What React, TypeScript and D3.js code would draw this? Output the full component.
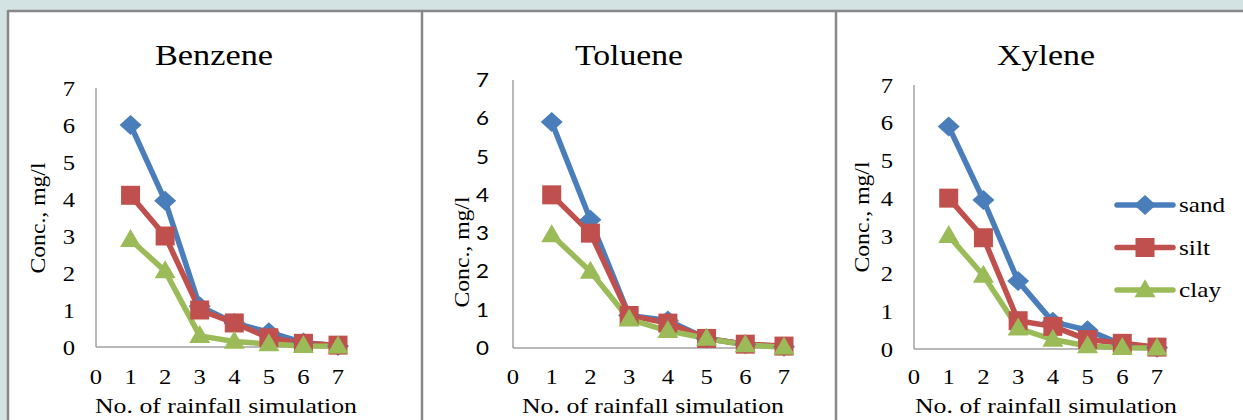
import React from 'react'
import * as d3 from 'd3'

const runs = [1, 2, 3, 4, 5, 6, 7]
const xTicks = [0, 1, 2, 3, 4, 5, 6, 7]
const yTicks = [0, 1, 2, 3, 4, 5, 6, 7]
const soils = ['sand', 'silt', 'clay']
const soilLabelWidths = [46, 31, 42]
const colors = ['#4a7ebb', '#c0504d', '#9bbb59']

const benzeneSand = [6.0, 3.95, 1.1, 0.65, 0.4, 0.12, 0.03]
const benzeneSilt = [4.1, 3.0, 1.0, 0.65, 0.25, 0.1, 0.05]
const benzeneClay = [2.9, 2.05, 0.3, 0.15, 0.08, 0.03, 0.02]

const tolueneSand = [5.9, 3.35, 0.85, 0.72, 0.25, 0.1, 0.03]
const tolueneSilt = [4.0, 3.0, 0.85, 0.65, 0.25, 0.1, 0.05]
const tolueneClay = [2.95, 2.0, 0.75, 0.45, 0.25, 0.08, 0.02]

const xyleneSand = [5.9, 3.95, 1.8, 0.72, 0.5, 0.12, 0.03]
const xyleneSilt = [4.0, 2.95, 0.75, 0.6, 0.25, 0.15, 0.05]
const xyleneClay = [3.0, 1.95, 0.55, 0.25, 0.08, 0.03, 0.02]

const SERIF = '"Liberation Serif", "Times New Roman", serif'
const SANS = 'Lato, "Liberation Sans", sans-serif'

type Panel = {
  title: string
  titleW: number
  series: number[][]
  x0: number; x7: number; y0: number; y7: number
  titleX: number; xTitleX: number; yTitleX: number; yTitleY: number
  yFont: string; yLabelX: number
  legend?: boolean
}

const panels: Panel[] = [
  { title: 'Benzene', titleW: 118, series: [benzeneSand, benzeneSilt, benzeneClay],
    x0: 96, x7: 338, y0: 347, y7: 88, titleX: 214, xTitleX: 226, yTitleX: 45, yTitleY: 218,
    yFont: SERIF, yLabelX: 75 },
  { title: 'Toluene', titleW: 108, series: [tolueneSand, tolueneSilt, tolueneClay],
    x0: 513, x7: 784, y0: 348, y7: 80, titleX: 629, xTitleX: 653, yTitleX: 469, yTitleY: 252,
    yFont: SANS, yLabelX: 489 },
  { title: 'Xylene', titleW: 98, series: [xyleneSand, xyleneSilt, xyleneClay],
    x0: 914, x7: 1157, y0: 349, y7: 85, titleX: 1046, xTitleX: 1046, yTitleX: 869, yTitleY: 217,
    yFont: SERIF, yLabelX: 893, legend: true },
]

function Marker({ kind, x, y, color }: { kind: number; x: number; y: number; color: string }) {
  if (kind === 0) {
    const rx = 11, ry = 10
    return <path d={`M${x},${y - ry}L${x + rx},${y}L${x},${y + ry}L${x - rx},${y}Z`} fill={color} />
  }
  if (kind === 1) {
    const s = 19
    return <rect x={x - s / 2} y={y - s / 2} width={s} height={s} fill={color} />
  }
  const w = 21, h = 18
  return <path d={`M${x},${y - h * 0.6}L${x + w / 2},${y + h * 0.4}L${x - w / 2},${y + h * 0.4}Z`} fill={color} />
}

function ChartPanel({ p }: { p: Panel }) {
  const x = d3.scaleLinear().domain([0, 7]).range([p.x0, p.x7])
  const y = d3.scaleLinear().domain([0, 7]).range([p.y0, p.y7])
  const line = d3.line<number>().x((_, i) => x(runs[i])).y(d => y(d))

  return (
    <g>
      <text x={p.titleX} y={65} textAnchor="middle" fontFamily={SERIF} fontSize={30}
        textLength={p.titleW} lengthAdjust="spacingAndGlyphs">{p.title}</text>
      <line x1={p.x0} x2={p.x0} y1={p.y7} y2={p.y0} stroke="#a0a0a0" strokeWidth={1.5} />
      <line x1={p.x0} x2={p.x7} y1={p.y0} y2={p.y0} stroke="#a0a0a0" strokeWidth={1.5} />
      {yTicks.map(t => (
        <text key={t} transform={`translate(${p.yLabelX},${y(t)}) scale(1.12,1)`} dy="0.35em" textAnchor="end"
          fontFamily={p.yFont} fontSize={p.yFont === SANS ? 20 : 22}>{t}</text>
      ))}
      {xTicks.map(t => (
        <text key={t} transform={`translate(${x(t)},384) scale(1.12,1)`} textAnchor="middle" fontFamily={SERIF} fontSize={22}>{t}</text>
      ))}
      <text x={p.xTitleX} y={413} textAnchor="middle" fontFamily={SERIF} fontSize={22}
        textLength={262} lengthAdjust="spacingAndGlyphs">No. of rainfall simulation</text>
      <text transform={`translate(${p.yTitleX},${p.yTitleY}) rotate(-90)`} textAnchor="middle" fontFamily={SERIF} fontSize={22}
        textLength={111} lengthAdjust="spacingAndGlyphs">Conc., mg/l</text>
      {p.series.map((s, k) => (
        <path key={k} d={line(s) || ''} fill="none" stroke={colors[k]} strokeWidth={5.5} strokeLinejoin="round" />
      ))}
      {p.series.map((s, k) => s.map((v, i) => (
        <Marker key={`${k}-${i}`} kind={k} x={x(runs[i])} y={y(v)} color={colors[k]} />
      )))}
      {p.legend && soils.map((name, k) => {
        const ly = 205 + k * 42.5
        return (
          <g key={name}>
            <line x1={1117} x2={1173} y1={ly} y2={ly} stroke={colors[k]} strokeWidth={5.5} strokeLinecap="round" />
            <Marker kind={k} x={1145} y={ly} color={colors[k]} />
            <text x={1179} y={ly} dy="0.33em" fontFamily={SERIF} fontSize={22}
              textLength={soilLabelWidths[k]} lengthAdjust="spacingAndGlyphs">{name}</text>
          </g>
        )
      })}
    </g>
  )
}

export default function App() {
  return (
    <svg width={1243} height={420} style={{ position: 'absolute', left: 0, top: 0, display: 'block' }}>
      <rect width={1243} height={420} fill="#d3e3e3" />
      <rect x={8} y={11} width={1235} height={409} fill="#ffffff" />
      <line x1={8} x2={1243} y1={11} y2={11} stroke="#888888" strokeWidth={2.5} />
      <line x1={8} x2={8} y1={10} y2={420} stroke="#888888" strokeWidth={2.5} />
      <line x1={422} x2={422} y1={10} y2={420} stroke="#888888" strokeWidth={2.5} />
      <line x1={836} x2={836} y1={10} y2={420} stroke="#888888" strokeWidth={2.5} />
      {panels.map(p => <ChartPanel key={p.title} p={p} />)}
    </svg>
  )
}
